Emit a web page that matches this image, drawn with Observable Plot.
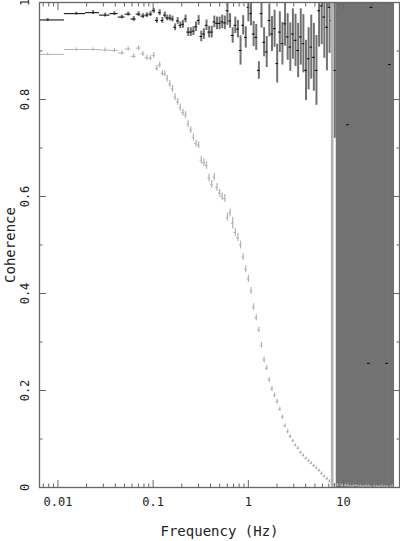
<!DOCTYPE html>
<html><head><meta charset="utf-8">
<script src="https://cdn.jsdelivr.net/npm/d3@7"></script>
<script src="https://cdn.jsdelivr.net/npm/@observablehq/plot@0.6"></script>
<style>body{margin:0;background:#fff} svg{display:block}</style>
</head><body><div id="chart"></div>
<script>
// Frequency bins (Hz): linear bins at low frequency, then logarithmic bins
const frequency = [
  0.0078, 0.0156, 0.0234, 0.0313, 0.0391, 0.0469, 0.0547, 0.0625, 0.0703, 0.0781,
  0.0859, 0.0938, 0.1016, 0.1094, 0.1172, 0.125, 0.1328,
  0.1406, 0.1498, 0.1596, 0.1700, 0.1811, 0.1930, 0.2056, 0.2190, 0.2333, 0.2486,
  0.2649, 0.2822, 0.3006, 0.3203, 0.3412, 0.3635, 0.3873, 0.4126, 0.4396, 0.4683,
  0.4989, 0.5315, 0.5663, 0.6033, 0.6427, 0.6848, 0.7295, 0.7772, 0.8280, 0.8822,
  0.9397, 1.0012, 1.0666, 1.1364, 1.2107, 1.2898, 1.3741, 1.4640, 1.5597, 1.6617,
  1.770, 1.886, 2.009, 2.141, 2.281, 2.430, 2.589, 2.758, 2.938, 3.130,
  3.335, 3.553, 3.785, 4.033, 4.296, 4.577, 4.877, 5.195, 5.535, 5.897,
  6.283, 6.69, 7.13, 7.60, 8.09, 8.62, 9.19, 9.79, 10.43, 11.11,
  11.83, 12.61, 13.43, 14.31, 15.24, 16.24, 17.30, 18.43, 19.64, 20.92,
  22.29, 23.74, 25.29, 26.95, 28.71, 30.59, 32.59
];

// Black series coherence and 1-sigma error
const coherenceBlack = [
  0.964, 0.977, 0.979, 0.974, 0.977, 0.970, 0.976, 0.966, 0.976, 0.972,
  0.974, 0.976, 0.983, 0.963, 0.979, 0.963, 0.974,
  0.968, 0.968, 0.966, 0.949, 0.962, 0.953, 0.955, 0.966, 0.939, 0.939,
  0.941, 0.950, 0.963, 0.930, 0.935, 0.953, 0.939, 0.939, 0.960, 0.957,
  0.957, 0.960, 0.958, 0.983, 0.962, 0.932, 0.953, 0.945, 0.901, 0.953,
  0.928, 0.990, 0.977, 0.935, 0.928, 0.860, 0.977, 0.918, 0.898, 0.963,
  0.935, 0.946, 0.874, 0.939, 0.915, 0.956, 0.929, 0.908, 0.935, 0.922,
  0.901, 0.929, 0.915, 0.860, 0.884, 0.908, 0.887, 0.860, 0.983, 0.993,
  0.970, 0.949, 0.990, 0.963, 0.860, 1.42, -0.35, 1.86, -0.6, 0.748,
  1.25, -0.9, 2.1, 1.55, -0.4, 1.7, -1.2, 0.256, 0.99, 1.9,
  -0.7, 2.4, -0.5, 1.3, 0.256, 0.872, -1.1
];
const errorBlack = [
  0.003, 0.003, 0.004, 0.004, 0.004, 0.004, 0.004, 0.005, 0.005, 0.005,
  0.005, 0.005, 0.005, 0.006, 0.006, 0.006, 0.006,
  0.006, 0.006, 0.006, 0.007, 0.007, 0.007, 0.008, 0.008, 0.009, 0.009,
  0.009, 0.010, 0.010, 0.011, 0.011, 0.011, 0.012, 0.012, 0.012, 0.013,
  0.013, 0.014, 0.014, 0.030, 0.015, 0.016, 0.017, 0.018, 0.030, 0.020,
  0.022, 0.030, 0.025, 0.026, 0.027, 0.018, 0.030, 0.030, 0.032, 0.034,
  0.036, 0.038, 0.040, 0.042, 0.044, 0.046, 0.048, 0.050, 0.052, 0.054,
  0.056, 0.058, 0.060, 0.062, 0.064, 0.066, 0.070, 0.072, 0.075, 0.080,
  0.085, 0.090, 0.095, 0.100, 0.140, 3.0, 3.0, 3.0, 3.0, 3.0,
  3.0, 3.0, 3.0, 3.0, 3.0, 3.0, 3.0, 3.0, 3.0, 3.0,
  3.0, 3.0, 3.0, 3.0, 3.0, 3.0, 3.0
];

// Grey series coherence and 1-sigma error
const coherenceGrey = [
  0.893, 0.903, 0.903, 0.902, 0.901, 0.896, 0.904, 0.889, 0.906, 0.894,
  0.886, 0.885, 0.891, 0.864, 0.871, 0.854, 0.853,
  0.843, 0.832, 0.822, 0.805, 0.795, 0.783, 0.773, 0.768, 0.749, 0.737,
  0.722, 0.709, 0.706, 0.675, 0.670, 0.664, 0.638, 0.625, 0.640, 0.619,
  0.607, 0.599, 0.596, 0.557, 0.566, 0.545, 0.526, 0.515, 0.500, 0.475,
  0.450, 0.430, 0.405, 0.372, 0.350, 0.325, 0.293, 0.263, 0.246, 0.222,
  0.203, 0.190, 0.177, 0.161, 0.145, 0.127, 0.115, 0.105, 0.096, 0.087,
  0.081, 0.072, 0.066, 0.060, 0.055, 0.050, 0.045, 0.040, 0.035, 0.029,
  0.023, 0.018, 0.013, 0.008, 0.006, 0.005, 0.005, 0.004, 0.004, 0.004,
  0.003, 0.003, 0.004, 0.003, 0.003, 0.002, 0.003, 0.003, 0.002, 0.003,
  0.002, 0.002, 0.003, 0.002, 0.002, 0.002, 0.003
];
const errorGrey = [
  0.003, 0.003, 0.003, 0.004, 0.004, 0.004, 0.004, 0.005, 0.005, 0.005,
  0.005, 0.005, 0.006, 0.006, 0.006, 0.006, 0.006,
  0.007, 0.007, 0.007, 0.007, 0.007, 0.007, 0.007, 0.007, 0.007, 0.007,
  0.007, 0.007, 0.007, 0.008, 0.008, 0.008, 0.008, 0.008, 0.008, 0.008,
  0.008, 0.008, 0.008, 0.008, 0.008, 0.012, 0.008, 0.008, 0.008, 0.007,
  0.007, 0.007, 0.007, 0.007, 0.006, 0.006, 0.006, 0.006, 0.005, 0.005,
  0.005, 0.005, 0.005, 0.004, 0.004, 0.004, 0.004, 0.004, 0.003, 0.003,
  0.003, 0.003, 0.003, 0.003, 0.003, 0.003, 0.003, 0.003, 0.003, 0.003,
  0.003, 0.003, 0.003, 1.2, 0.003, 0.003, 0.003, 0.003, 0.003, 0.003,
  0.002, 0.002, 0.002, 0.002, 0.002, 0.002, 0.002, 0.002, 0.002, 0.002,
  0.002, 0.002, 0.002, 0.002, 0.002, 0.002, 0.002
];

// Tick values and labels
const xMajorTicks = [0.01, 0.1, 1, 10];
const xTickLabels = ["0.01", "0.1", "1", "10"];
const xMinorTicks = [0.007, 0.008, 0.009, 0.02, 0.03, 0.04, 0.05, 0.06, 0.07, 0.08, 0.09,
  0.2, 0.3, 0.4, 0.5, 0.6, 0.7, 0.8, 0.9, 2, 3, 4, 5, 6, 7, 8, 9, 20, 30];
const yMajorTicks = [0, 0.2, 0.4, 0.6, 0.8, 1];
const yTickLabels = ["0", "0.2", "0.4", "0.6", "0.8", "1"];
const yMinorTicks = [0.1, 0.3, 0.5, 0.7, 0.9];
const xLabel = "Frequency (Hz)";
const yLabel = "Coherence";

// Bin edges from neighbouring bin centres
const rows = frequency.map((f, i) => {
  const prev = i > 0 ? frequency[i - 1] : f - (frequency[1] - f);
  const next = i < frequency.length - 1 ? frequency[i + 1] : f + (f - frequency[i - 1]);
  return {
    f, lo: (prev + f) / 2, hi: (f + next) / 2,
    black: coherenceBlack[i], eb: errorBlack[i],
    grey: coherenceGrey[i], eg: errorGrey[i]
  };
});

const axisColor = "#666";
const greyColor = "#b2b2b2";

const chart = Plot.plot({
  width: 400,
  height: 541,
  marginLeft: 39,
  marginRight: 1,
  marginTop: 2,
  marginBottom: 54,
  style: {fontFamily: "DejaVu Sans Mono", fontSize: "12px", background: "#fff"},
  x: {type: "log", domain: [0.0064, 38.7]},
  y: {domain: [0, 1]},
  marks: [
    // black series
    Plot.ruleX(rows, {x: "f", y1: d => d.black - d.eb, y2: d => d.black + d.eb, stroke: "#727272",
      strokeWidth: d => d.eb > 1 ? 3.3 : 2, clip: true}),
    Plot.ruleY(rows, {y: "black", x1: "lo", x2: "hi", stroke: "#000", strokeWidth: 1, clip: true}),
    // grey series
    Plot.ruleX(rows, {x: "f", y1: d => d.grey - d.eg, y2: d => d.grey + d.eg, stroke: greyColor,
      strokeWidth: d => d.eg > 1 ? 2.6 : 1.2, clip: true}),
    Plot.ruleY(rows, {y: "grey", x1: "lo", x2: "hi", stroke: greyColor, strokeWidth: 1, clip: true}),
    // frame and inward ticks
    Plot.frame({stroke: axisColor, strokeWidth: 1.3}),
    Plot.axisX(xMajorTicks, {anchor: "bottom", tickSize: -7, fill: "none", stroke: axisColor, label: null}),
    Plot.axisX(xMinorTicks, {anchor: "bottom", tickSize: -3.5, fill: "none", stroke: axisColor, label: null}),
    Plot.axisX(xMajorTicks, {anchor: "top", tickSize: -7, fill: "none", stroke: axisColor, label: null}),
    Plot.axisX(xMinorTicks, {anchor: "top", tickSize: -3.5, fill: "none", stroke: axisColor, label: null}),
    Plot.axisY(yMajorTicks, {anchor: "left", tickSize: -7, fill: "none", stroke: axisColor, label: null}),
    Plot.axisY(yMinorTicks, {anchor: "left", tickSize: -3.5, fill: "none", stroke: axisColor, label: null}),
    Plot.axisY(yMajorTicks, {anchor: "right", tickSize: -7, fill: "none", stroke: axisColor, label: null}),
    Plot.axisY(yMinorTicks, {anchor: "right", tickSize: -3.5, fill: "none", stroke: axisColor, label: null}),
    // tick labels
    Plot.text(xMajorTicks, {x: d => d, text: (d, i) => xTickLabels[i], frameAnchor: "bottom", dy: 15, lineAnchor: "middle", fontSize: 12, fill: "#222"}),
    Plot.text(yMajorTicks, {y: d => d, text: (d, i) => yTickLabels[i], frameAnchor: "left", dx: -14, rotate: -90, textAnchor: "middle", lineAnchor: "middle", fontSize: 12, fill: "#222"}),
    // axis titles
    Plot.text([xLabel], {text: d => d, frameAnchor: "bottom", dy: 44, lineAnchor: "middle", fontSize: 14, fill: "#222"}),
    Plot.text([yLabel], {text: d => d, frameAnchor: "left", dx: -29, rotate: -90, textAnchor: "middle", lineAnchor: "middle", fontSize: 14, fill: "#222"})
  ]
});
document.getElementById("chart").appendChild(chart);
</script>
</body></html>
